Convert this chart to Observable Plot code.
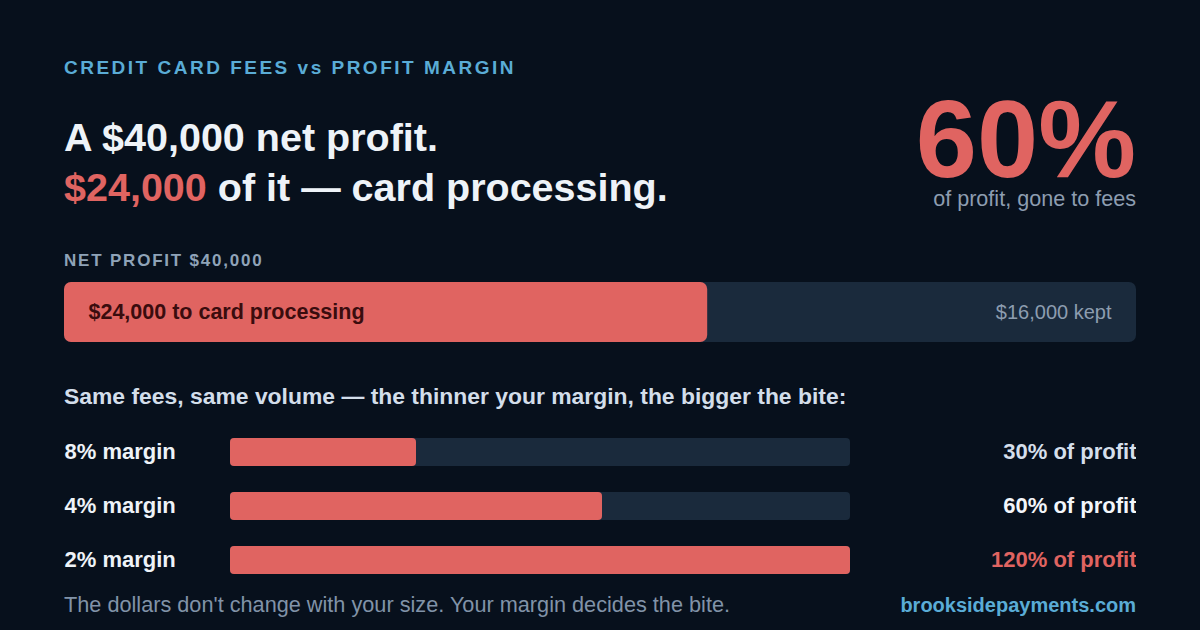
<!DOCTYPE html>
<html>
<head>
<meta charset="utf-8">
<script src="https://cdn.jsdelivr.net/npm/d3@7"></script>
<script src="https://cdn.jsdelivr.net/npm/@observablehq/plot@0.6"></script>
<style>
  html, body { margin: 0; padding: 0; }
  body { width: 1200px; height: 630px; background: #07101c; position: relative; overflow: hidden;
         font-family: "Liberation Sans", Arial, sans-serif; }
  .abs { position: absolute; line-height: 1; white-space: nowrap; }
  #eyebrow { left: 64px; top: 57.5px; font-size: 19px; font-weight: bold; letter-spacing: 2.5px; color: #5aacd6; }
  #headline { left: 64px; top: 112px; font-size: 39.5px; font-weight: bold; line-height: 50px; color: #eef3f8; }
  #headline .red { color: #e06461; }
  #big { right: 64px; top: 95px; font-size: 110px; line-height: 0.8; font-weight: bold; color: #e06461; }
  #bigsub { right: 64px; top: 188px; font-size: 21.6px; color: #8d9db0; }
  #netlabel { left: 64px; top: 251.6px; font-size: 17px; font-weight: bold; letter-spacing: 1.8px; color: #8fa3b8; }
  #bigbar { position: absolute; left: 64px; top: 282px; }
  #sub { left: 64px; top: 384.6px; font-size: 22.9px; font-weight: bold; color: #d3deea; }
  #rows { position: absolute; left: 64px; top: 425px; }
  #foot { left: 64px; top: 593.6px; font-size: 21.7px; color: #8193a8; }
  #site { right: 64px; top: 595px; font-size: 20px; font-weight: bold; color: #5aacd6; }
</style>
</head>
<body>
<div class="abs" id="eyebrow">CREDIT CARD FEES vs PROFIT MARGIN</div>
<div class="abs" id="headline"></div>
<div class="abs" id="big"></div>
<div class="abs" id="bigsub">of profit, gone to fees</div>
<div class="abs" id="netlabel"></div>
<div id="bigbar"></div>
<div class="abs" id="sub">Same fees, same volume — the thinner your margin, the bigger the bite:</div>
<div id="rows"></div>
<div class="abs" id="foot">The dollars don't change with your size. Your margin decides the bite.</div>
<div class="abs" id="site">brooksidepayments.com</div>
<script>
// ---- data ----
const netProfit = 40000;
const cardFees = 24000;
const kept = 16000;
const marginLabels = ["8% margin", "4% margin", "2% margin"];
const shareOfProfit = [30, 60, 120];
const shareColors = ["#d5dfeb", "#f3f6fa", "#e06461"];

const fmt = d3.format("$,");
const pct = Math.round(cardFees / netProfit * 100);

document.getElementById("headline").innerHTML =
  `A ${fmt(netProfit)} net profit.<br><span class="red">${fmt(cardFees)}</span> of it — card processing.`;
document.getElementById("big").textContent = `${pct}%`;
document.getElementById("netlabel").textContent = `NET PROFIT ${fmt(netProfit)}`;

const font = "'Liberation Sans', Arial, sans-serif";

// ---- big bar ----
const bigPlot = Plot.plot({
  width: 1072, height: 60,
  marginTop: 0, marginBottom: 0, marginLeft: 0, marginRight: 0,
  style: { background: "transparent", fontFamily: font },
  x: { domain: [0, netProfit], axis: null },
  marks: [
    Plot.barX([{ v: netProfit }], { x: "v", fill: "#1a2a3c", rx: 7 }),
    Plot.barX([{ v: cardFees }], { x: "v", fill: "#e06461", rx: 7 }),
    Plot.text([`${fmt(cardFees)} to card processing`], {
      text: d => d, frameAnchor: "left", textAnchor: "start", dx: 24,
      fill: "#3a0c0e", fontSize: 21.5, fontWeight: "bold"
    }),
    Plot.text([`${fmt(kept)} kept`], {
      text: d => d, frameAnchor: "right", textAnchor: "end", dx: -25,
      fill: "#8d9db0", fontSize: 20
    })
  ]
});
document.getElementById("bigbar").appendChild(bigPlot);

// ---- margin rows ----
const rows = marginLabels.map((m, i) => ({ margin: m, share: shareOfProfit[i], color: shareColors[i] }));
const rowsPlot = Plot.plot({
  width: 1072, height: 162,
  marginTop: 0, marginBottom: 0, marginLeft: 166, marginRight: 286,
  style: { background: "transparent", fontFamily: font },
  x: { domain: [0, 100], clamp: true, axis: null },
  y: { domain: marginLabels, padding: 0, axis: null },
  color: { type: "identity" },
  marks: [
    Plot.barX(rows, { x: () => 100, y: "margin", fill: "#1a2a3c", rx: 4, insetTop: 13, insetBottom: 13 }),
    Plot.barX(rows, { x: "share", y: "margin", fill: "#e06461", rx: 4, insetTop: 13, insetBottom: 13 }),
    Plot.text(rows, {
      y: "margin", text: "margin", frameAnchor: "left", textAnchor: "start", dx: -166, dy: -1,
      fill: "#eef3f8", fontSize: 22, fontWeight: "bold"
    }),
    Plot.text(rows, {
      y: "margin", text: d => `${d.share}% of profit`, frameAnchor: "right", textAnchor: "end", dx: 286, dy: -1,
      fill: "color", fontSize: 22, fontWeight: "bold"
    })
  ]
});
document.getElementById("rows").appendChild(rowsPlot);
</script>
</body>
</html>
